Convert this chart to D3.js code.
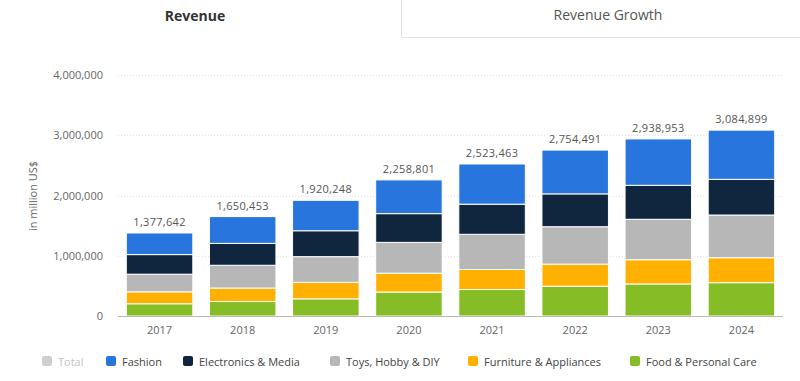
<!DOCTYPE html>
<html><head><meta charset="utf-8">
<script src="https://cdn.jsdelivr.net/npm/d3@7"></script>
<style>
body{margin:0;background:#fff;font-family:"Open Sans",sans-serif;}
svg{display:block;}
</style></head>
<body>
<svg id="chart" width="800" height="381"></svg>
<script>
const years = ["2017","2018","2019","2020","2021","2022","2023","2024"];
const totals = [1377642,1650453,1920248,2258801,2523463,2754491,2938953,3084899];
const food = [203000,240000,285000,398000,439000,495000,532000,553000];
const furniture = [198000,224000,274000,313000,333000,366000,402000,414000];
const toys = [293000,378000,426000,511000,584000,621000,671000,709000];
const electronics = [325000,363000,430000,477000,500000,545000,564000,592000];
const fashion = [359000,445000,505000,560000,667000,727000,770000,817000];
const yTicks = [0,1000000,2000000,3000000,4000000];
const seriesNames = ["Food & Personal Care","Furniture & Appliances","Toys, Hobby & DIY","Electronics & Media","Fashion"];
const seriesColors = ["#86bc25","#ffb000","#b7b7b7","#10263f","#2876dd"];
const legendItems = ["Total","Fashion","Electronics & Media","Toys, Hobby & DIY","Furniture & Appliances","Food & Personal Care"];
const legendColors = ["#cfcfcf","#2876dd","#10263f","#b7b7b7","#ffb000","#86bc25"];

const svg = d3.select("#chart");

// Tabs
svg.append("text").attr("x",195).attr("y",21).attr("text-anchor","middle")
  .attr("font-size",14).attr("font-weight","bold").attr("fill","#333").text("Revenue");
svg.append("path").attr("d","M401.5,0V37.5H800").attr("fill","none").attr("stroke","#e3e3e3");
svg.append("text").attr("x",608).attr("y",20).attr("text-anchor","middle")
  .attr("font-size",14).attr("fill","#555").text("Revenue Growth");

const x = d3.scaleBand().domain(years).range([118,783]).paddingInner(0.2).paddingOuter(0.1);
const y = d3.scaleLinear().domain([0,4000000]).range([316,75]);

// grid
svg.append("g").selectAll("line").data(yTicks.slice(1)).join("line")
  .attr("x1",118).attr("x2",783).attr("y1",d=>Math.round(y(d))+0.5).attr("y2",d=>Math.round(y(d))+0.5)
  .attr("stroke","#e6e6e6").attr("stroke-dasharray","1,2");

// y axis labels
const yAxis = d3.axisLeft(y).tickValues(yTicks).tickSize(0).tickPadding(0).tickFormat(d3.format(","));
const ya = svg.append("g").attr("transform","translate(103,0)").call(yAxis);
ya.select(".domain").remove();
ya.selectAll("text").attr("font-family","Open Sans").attr("font-size",11).attr("fill","#666");

svg.append("text").attr("transform","translate(37,196) rotate(-90)").attr("text-anchor","middle")
  .attr("font-size",11).attr("fill","#666").text("in million US$");

// stacked data
const rows = years.map((yr,i)=>({year:yr, s0:food[i], s1:furniture[i], s2:toys[i], s3:electronics[i], s4:fashion[i]}));
const stack = d3.stack().keys(["s0","s1","s2","s3","s4"])(rows);
svg.append("g").selectAll("g").data(stack).join("g")
  .attr("fill",(d,i)=>seriesColors[i])
  .selectAll("rect").data(d=>d).join("rect")
  .attr("x",d=>x(d.data.year)).attr("width",x.bandwidth())
  .attr("y",d=>y(d[1])).attr("height",d=>y(d[0])-y(d[1]))
  .attr("stroke","#fff").attr("stroke-width",1);

// baseline
svg.append("line").attr("x1",118).attr("x2",783).attr("y1",316.5).attr("y2",316.5).attr("stroke","#bbb");

// x axis
const xAxis = d3.axisBottom(x).tickSize(0).tickPadding(0);
const xa = svg.append("g").attr("transform","translate(0,334)").call(xAxis);
xa.select(".domain").remove();
xa.selectAll("text").attr("font-family","Open Sans").attr("font-size",11).attr("fill","#666").attr("dy","0");

// totals labels
svg.append("g").selectAll("text").data(years).join("text")
  .attr("x",d=>x(d)+x.bandwidth()/2).attr("y",(d,i)=>y(sumAt(i))-7)
  .attr("text-anchor","middle").attr("font-size",11).attr("fill","#555").attr("letter-spacing","0.3")
  .text((d,i)=>d3.format(",")(totals[i]));
function sumAt(i){return food[i]+furniture[i]+toys[i]+electronics[i]+fashion[i];}

// legend
const legendX = [42,106,183,330,468,630];
const lg = svg.append("g").selectAll("g").data(legendItems).join("g")
  .attr("transform",(d,i)=>`translate(${legendX[i]},356)`);
lg.append("rect").attr("width",10).attr("height",10).attr("rx",2).attr("fill",(d,i)=>legendColors[i]);
lg.append("text").attr("x",16).attr("y",9.5).attr("font-size",11)
  .attr("fill",(d,i)=>i===0?"#c4c4c4":"#444").text(d=>d);
</script>
</body></html>
